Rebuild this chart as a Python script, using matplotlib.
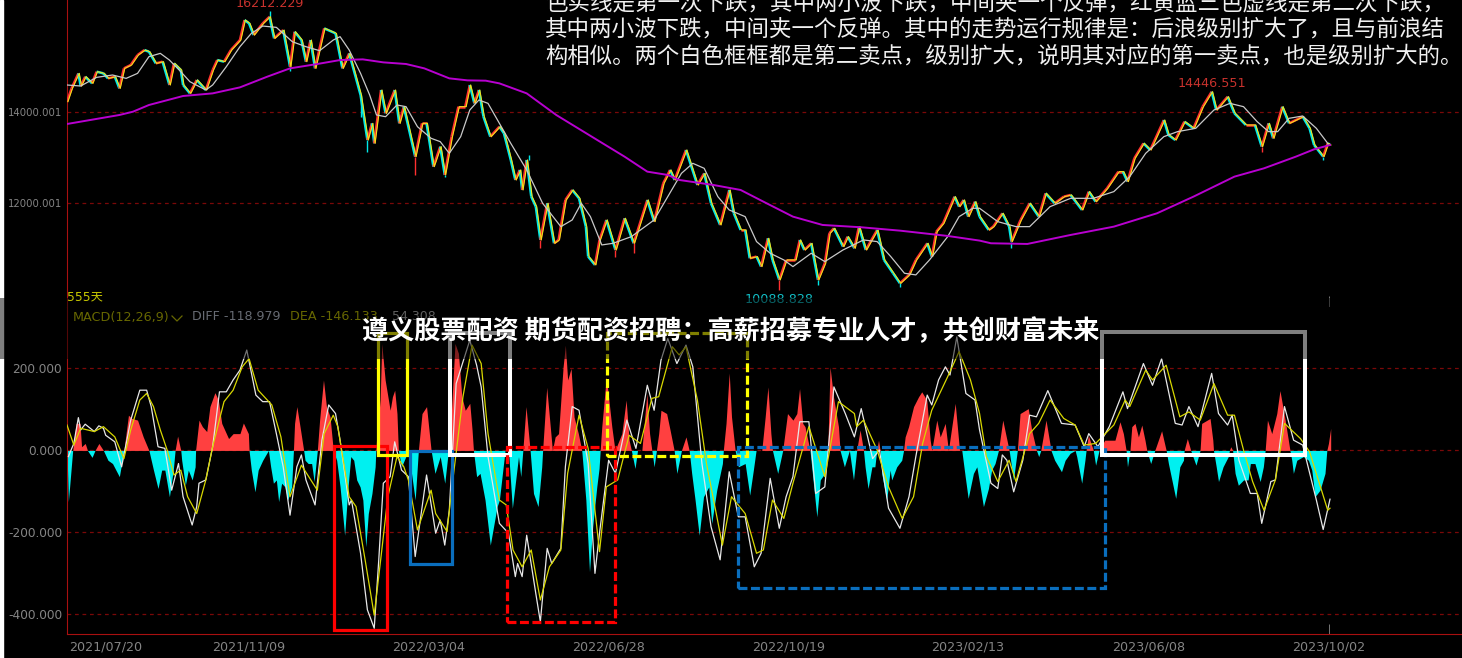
#!/usr/bin/env python3
import matplotlib
matplotlib.use("Agg")
import matplotlib.pyplot as plt
import numpy as np
from matplotlib.collections import LineCollection
from matplotlib.patches import Rectangle

plt.rcParams['font.family'] = ['DejaVu Sans', 'Noto Sans CJK SC']

#x axis is the trading day number, 555 days on the chart
close_bars = [0,2,5,6,8,11,13,16,18,21,23,25,28,31,34,36,39,42,45,47,50,51,54,57,61,64,66,69,72,76,78,80,82,86,89,91,95,98,100,103,105,107,109,113,118,121,124,129,132,134,135,138,140,144,146,148,153,156,158,161,164,166,169,172,175,177,179,181,183,186,
	190,192,195,197,199,200,202,204,206,208,211,214,216,219,222,225,228,229,232,234,237,241,245,249,255,258,262,265,267,272,277,280,283,287,291,293,296,298,300,303,305,308,310,313,316,320,322,324,327,330,333,335,337,341,343,346,348,351,356,359,363,366,370,373,378,380,382,385,390,392,394,396,399,
	401,405,407,411,414,415,419,423,427,430,434,438,441,446,449,452,457,462,464,466,469,473,476,482,484,487,491,495,499,503,505,510,513,518,522,525,528,530,534,537,543,546,548,552,554,555]
close = [14227,14520,14850,14570,14777,14630,14887,14850,14740,14777,14520,14960,15034,15253,15363,15327,15070,15107,14594,15070,14924,14594,14410,14704,14484,14924,15143,15107,15363,15583,16023,15950,15693,15950,16096,15620,15803,14997,15766,15583,15107,15583,14960,15840,15730,14960,15290,14374,13384,13751,13311,14484,13971,14484,13751,14117,13018,13751,13751,12798,13238,12615,13458,14117,14117,14594,14190,14484,13897,13458,
	13677,13531,12945,12505,12725,12285,12945,12138,11918,11185,11992,11112,11185,12065,12285,12101,11478,10819,10635,11185,11625,10965,11662,11112,12065,11588,12431,12725,12505,13164,12395,12651,11992,11515,12285,11772,11405,11405,10782,10819,10599,11222,10745,10306,10745,10745,11185,10965,11112,10306,10672,11332,11442,11038,11258,11002,11478,10965,11405,10745,10452,10232,10416,10745,11112,10819,11368,11552,12138,11918,12065,11698,12028,
	11698,11405,11478,11772,11478,11148,11625,11992,11698,12211,11992,12138,12175,11845,12248,12028,12321,12688,12688,12468,12981,13311,13164,13824,13494,13384,13787,13641,14117,14447,14044,14337,13971,13714,13714,13238,13751,13421,14117,13751,13897,13641,13274,13018,13311,13274]

#long wicks that stick out past the closes
wick_bars = [89,98,132,153,166,129,208,203,241,249,313,330,366,415,503,525,552]
wick_from = [16096,14997,13384,13018,12615,14374,11185,12945,10965,11112,10306,10306,10232,11148,14447,13238,13018]
wick_to = [16212,14900,13128,12615,12578,13900,11000,13050,10800,10900,10088,10200,10150,11002,14446,13130,12950]

ma_bars = [0,6,13,20,26,31,36,41,45,50,54,61,64,70,76,81,86,92,99,105,111,117,120,124,129,133,136,140,145,149,154,160,164,168,173,177,181,185,190,
	195,202,209,217,222,226,230,235,240,248,258,264,270,275,280,286,291,298,303,309,315,319,327,333,341,350,356,362,368,373,379,387,392,398,
	401,409,417,423,432,441,451,460,467,474,482,488,496,504,511,517,523,528,532,537,543,549,554]
ma = [14594,14572,14762,14814,14740,14850,15217,15290,15143,14887,14667,14484,14594,14997,15437,15730,15891,15862,15547,15437,15349,15583,15657,15363,14850,14374,13934,13897,14154,14117,13677,13421,13348,13091,13458,14044,14264,14190,13751,
	13311,12725,11992,11478,11625,11992,11698,11075,11112,11258,11625,12138,12651,12871,12761,12138,11845,11698,11149,10892,10745,10599,10892,10709,10965,11185,11149,10819,10452,10416,10745,11258,11698,11882,
	11882,11588,11478,11478,11918,12101,12101,12248,12578,13091,13458,13568,13641,14044,14190,14117,13787,13568,13568,13861,13912,13641,13311]

long_ma_bars = [0,23,29,36,51,64,76,88,98,110,120,130,139,149,157,168,176,184,190,202,215,233,245,255,264,269,284,296,306,319,332,349,366,387,401,406,422,441,460,479,495,513,526,540,548,555]
long_ma = [13736,13934,14007,14154,14352,14410,14542,14777,14960,15056,15143,15158,15092,15056,14960,14740,14696,14689,14630,14410,13934,13384,13018,12688,12615,12505,12395,12285,12028,11698,11515,11464,11390,11273,11171,11112,11097,11295,11478,11772,12138,12578,12761,13018,13179,13274]

dif_bars = [0.6,3,5,6,8,12,14,16,17,21,24,26,28,32,35,37,40,43,46,49,51,55,57,58,61,64,67,70,73,76,79,83,86,89,92,95,98,101,103,105,109,112,115,118,120,124,125,129,132,135,137,139,142,144,147,150,153,158,162,164,166,168,171,177,180,182,185,190,
	194,197,198,200,202,206,208,211,213,217,219,222,225,229,232,234,238,241,246,250,255,258,261,264,268,272,275,279,283,287,291,295,298,302,305,309,313,316,319,322,326,329,333,337,342,346,349,354,357,361,366,370,373,378,380,383,386,388,391,395,399,401,
	406,409,411,413,416,420,423,426,431,437,443,447,449,453,458,464,466,473,477,481,487,490,493,497,503,506,510,512,515,520,523,525,529,531,535,539,543,549,552,555]
dif = [-15,17,80,50,64,46,60,54,37,21,-40,17,74,147,147,107,9,5,-97,-32,-113,-182,-137,-80,-72,9,143,143,172,196,245,135,119,119,41,-40,-158,-40,-11,-72,-133,25,111,90,25,-133,-121,-251,-389,-434,-267,-80,-64,21,-48,-64,-259,-60,-202,-170,-231,-146,163,269,208,155,-15,-178,
	-202,-308,-276,-308,-207,-349,-418,-239,-276,-239,-40,107,98,-32,-300,-202,-24,-56,74,5,159,98,220,273,212,257,204,-32,-186,-267,-52,-162,-162,-284,-251,-68,-190,-113,-64,70,70,-105,-89,155,90,33,102,-20,1,-141,-190,-113,-15,135,111,172,204,184,277,139,123,50,
	-80,-93,-11,-24,-101,-24,86,82,146,66,62,9,41,9,58,143,102,212,159,224,66,62,107,58,188,90,62,86,-24,-105,-105,-178,-76,-72,107,25,13,-121,-193,-119]

dea_bars = [0,3,6,12,16,21,25,28,32,35,38,41,44,47,50,53,57,61,64,69,73,77,80,84,90,94,98,103,110,113,117,119,124,127,131,135,138,141,145,148,150,154,160,162,167,169,174,178,182,185,190,
	193,196,200,204,208,212,217,220,225,229,234,237,242,247,252,257,260,266,269,272,277,281,288,292,298,303,306,310,315,319,326,333,339,346,347,350,356,361,367,372,376,380,387,392,397,401,
	404,409,414,417,423,427,432,438,443,447,452,460,465,467,474,477,483,489,493,498,504,510,513,517,521,526,531,535,542,546,554,555]
dea = [62,13,54,46,58,33,-20,50,123,139,107,50,1,-60,-48,-113,-154,-72,9,119,147,204,224,147,111,33,-113,-36,-97,41,86,58,-113,-137,-267,-402,-259,-113,-15,-40,-72,-194,-97,-154,-198,-97,131,257,212,41,-121,
	-133,-243,-284,-243,-365,-284,-243,-56,86,5,-247,-89,-72,37,17,127,131,253,233,253,123,-32,-231,-113,-154,-251,-243,-121,-166,-80,58,-64,119,90,58,74,1,-89,-166,-113,17,98,180,241,172,90,
	-15,-76,-24,-76,41,66,123,78,62,13,17,62,123,107,196,172,208,82,94,74,163,86,86,1,-76,-146,-72,66,29,-3,-146,-141]

#macd histogram, (day, value), read lobe by lobe
hist_points = [
	(0,0),(0.6,-125),(2.5,0),(4,66),(5.7,66),(6.4,9),(8,17),(9,0),(11,-17),(12.3,0),(14,17),(16,0),(18,-24),(20,-32),(23,-64),(25,0),
	(27,86),(28.5,78),(31,74),(33.5,33),(36,0),(38,-48),(40,-93),(41.6,-48),(43,-48),(45,-113),(46.7,-48),(47.5,0),(48.6,35),(50,0),
	(50.4,-24),(52,-85),(53.3,-48),(55,-72),(56.3,-40),(56.5,0),(58,74),(59.5,58),(61.4,46),(62.8,107),(65,141),(66.5,123),(68,66),(71,29),(73,41),(76,41),(77.5,67),(79.7,41),(80,0),
	(81,-48),(82.6,-101),(84,-48),(86,-24),(88.5,0),(89.5,-40),(90.7,-80),(92,-72),(93,-125),(94.3,-80),(95.8,-89),(97,-121),(98.7,-89),(99.5,0),
	(100,66),(101,107),(102.4,58),(104,0),(104.6,-24),(106,-32),(107.5,-32),(108.6,-76),(110,0),(111,74),(112.7,172),(114,107),(115.6,82),(117,0),
	(118.5,-24),(120,-89),(122,-207),(123.5,-89),(124.7,-15),(126,-24),(127.3,-72),(128.8,-89),(130,-121),(131.3,-235),(132.4,-154),(134,-105),(135.4,-40),(135.7,0),
	(136,25),(137.6,123),(138.3,261),(139.8,172),(142,98),(143,131),(144,147),(145,90),(145.6,0),(147,-40),(150,0),(153,-121),(154.4,0),(156,90),(158,107),(160,0),
	(161.7,-56),(164,-15),(166,-80),(167.6,0),(168.4,41),(170.5,261),(172,237),(173.5,131),(175,98),(177,115),(178,50),(178.6,0),
	(180,-64),(181.5,-56),(183.7,-121),(186,-231),(189,-137),(190,-121),(192.5,0),(194,0),(195.7,-141),(198.4,-15),(199.4,-64),(200.3,0),(201.7,107),(203.5,0),
	(205,-105),(207,-137),(208.6,-40),(209,0),(210.8,154),(213.3,0),(214.5,33),(216,41),(218,204),(219,257),(220,172),(221.5,200),(222.8,82),(224.7,41),(226.2,0),
	(228,-121),(229.6,-296),(231,-186),(232.8,-89),(233.8,-44),(234.3,0),(235,58),(237,180),(239.4,58),(240.8,0),(243.8,41),(245.7,123),(247,25),(248,0),(249.6,-44),(250.7,0),
	(252.6,0),(254.8,139),(256,41),(257,0),(258,-40),(259,0),(260,41),(261,98),(263.5,90),(265,50),(266.8,0),(268,-56),(270,0),(272,33),(273.4,0),
	(274.5,-56),(276,-121),(277.8,-207),(279.7,-113),(282,-89),(283.3,-178),(285.5,-97),(288,-32),(288.4,0),(289.6,66),(291,189),(292,82),(293.6,0),
	(295,-40),(298,-32),(300,-109),(301.6,-48),(302.8,0),(305.3,0),(306.8,82),(308,155),(309.3,41),(310,0),(312.3,-56),(314.5,0),
	(316.6,90),(319,74),(320.7,90),(321.9,151),(323.3,66),(324.3,58),(326.5,0),(329.5,-162),(331,-72),(333,-56),(334.3,0),(335.3,204),(336.8,131),(339,58),(339.7,0),
	(341.6,-40),(343.8,0),(345.6,-72),(347,0),(348.5,50),(350,0),(350.7,-40),(352,-93),(353.7,-40),(355,-40),(355.8,0),(356.6,25),(357.3,0),
	(358,-56),(360.2,-121),(361.7,-48),(362.4,-72),(364.6,-40),(366.8,-24),(367.6,0),(368.3,33),(369.8,58),(372,107),(374.2,131),(375.6,143),(377.8,123),(379.3,25),(380,0),
	(382.2,74),(383.7,33),(385.9,66),(387.3,0),(390.3,115),(392.2,0),(393.2,0),(394.7,-64),(396,-117),(398.3,-56),(399.8,-40),(401.3,-89),
	(402.7,-137),(404.9,-93),(406.3,-48),(407.8,-32),(409.3,0),(411.2,74),(414,0),(415.9,-72),(417.6,0),(418.8,90),(422.4,102),(423.9,50),(426,0),(427,-15),(427.9,0),(430.2,74),(432.4,0),
	(434,-24),(437,-52),(438.6,-24),(440.8,-7),(443,0),(443.7,-15),(445.9,-80),(447.3,-24),(447.8,0),(448.8,37),(451,0),(452,-36),(453.5,0),
	(456,25),(460.5,25),(462.7,70),(464.2,41),(465.4,0),(466,-40),(467.1,0),(467.9,58),(469.3,66),(470.8,33),(472.3,62),(473.7,25),(474.5,0),(476.2,-32),(478,0),(481,48),(483,0),
	(484,-32),(487.2,-117),(489,-40),(490.6,-24),(490.9,0),(492.3,29),(493.8,0),(496.1,-36),(497.9,0),(498.6,66),(502.3,78),(503.5,25),(503.8,0),
	(505,-40),(506,-76),(508,-40),(510.3,-15),(510.8,0),(511.4,9),(512.2,0),(513.3,-56),(514.7,-85),(517,-72),(519,-72),(520,-32),(522,-32),(524.3,-76),(525.7,-40),(526.5,0),
	(527.5,74),(529.4,41),(531.6,90),(533,146),(535.3,74),(537.4,0),(538.2,-24),(538.9,-56),(540.4,-24),(543.3,-15),(545.5,-24),(547,-48),(548.4,-113),(550.6,-97),(552.8,-56),(553.6,0),(554.3,17),(555.3,54),
]

date_ticks = [0.8,80,159,238,317,396,475.4,554.5]
date_labels = ["2021/07/20","2021/11/09","2022/03/04","2022/06/28","2022/10/19","2023/02/13","2023/06/08","2023/10/02"]
price_ticks = [14000.001,12000.001]
macd_ticks = [200,0,-200,-400]

#drawn boxes on the macd panel: left, right, top, bottom, colour, dashed
boxes = [
	(117.5,140.8,11,-439,"#ff0000",False),
	(136.7,149.4,287,-11,"#ffff00",False),
	(150.7,169.2,-1,-277,"#0a6ebd",False),
	(168.3,194.6,287,-11,"#ffffff",False),
	(193.4,240.8,9,-418,"#ff0000",True),
	(237.3,298.8,287,-13,"#ffff00",True),
	(294.8,456,9,-336,"#0a6ebd",True),
	(454.8,544,289,-11,"#ffffff",False),
]

note_lines = [
	"色实线是第一次下跌，其中两小波下跌，中间夹一个反弹，红黄蓝三色虚线是第二次下跌，",
	"其中两小波下跌，中间夹一个反弹。其中的走势运行规律是：后浪级别扩大了，且与前浪结",
	"构相似。两个白色框框都是第二卖点，级别扩大，说明其对应的第一卖点，也是级别扩大的。",
]
banner = "遵义股票配资 期货配资招聘：高薪招募专业人才，共创财富未来"

W, H = 1462, 658
RED_LINE = "#a81010"
GRID = "#7a0808"
GREY = "#858585"


def panel(fig, top, bottom):
	ax = fig.add_axes([67 / W, 1 - bottom / H, (W - 67) / W, (bottom - top) / H])
	ax.set_facecolor("black")
	ax.set_xlim(0, 613)
	for side in ("top", "right"):
		ax.spines[side].set_visible(False)
	ax.spines["left"].set_color(RED_LINE)
	ax.spines["bottom"].set_color(RED_LINE)
	ax.tick_params(length=0, colors=GREY)
	return ax


fig = plt.figure(figsize=(W / 100, H / 100), dpi=100, facecolor="black")

#price panel
ax1 = panel(fig, 0, 307)
ax1.set_ylim(9710, 16464)
ax1.spines["bottom"].set_color("#5a0606")
ax1.set_xticks([])
ax1.set_yticks(price_ticks, [f"{v:.3f}" for v in price_ticks], fontsize=7.3)
ax1.grid(axis="y", color=GRID, linestyle=(0, (3, 3)), linewidth=0.9)
ax1.set_axisbelow(True)

#up moves red, down moves cyan, close line in yellow over them
xs = np.array(close_bars, dtype=float)
ys = np.array(close, dtype=float)
segs = [[(xs[i], ys[i]), (xs[i + 1], ys[i + 1])] for i in range(len(xs) - 1)]
cols = ["#ff3030" if ys[i + 1] >= ys[i] else "#00e8e8" for i in range(len(xs) - 1)]
ax1.add_collection(LineCollection(segs, colors=cols, linewidths=1.8, zorder=3))
ax1.vlines(wick_bars, wick_from, wick_to, colors=["#ff3030" if b in (153, 208, 241, 249, 313, 525) else "#00e8e8" for b in wick_bars], linewidth=1, zorder=3)
ax1.plot(xs + 0.4, ys, color="#f2e21a", linewidth=0.8, zorder=4)
ax1.plot(ma_bars, ma, color="#c9c9c9", linewidth=0.9, zorder=5)
ax1.plot(long_ma_bars, long_ma, color="#b800d0", linewidth=1.4, zorder=5)
ax1.vlines(554.5, 0, 0.035, transform=ax1.get_xaxis_transform(), color="#777777", linewidth=0.7)

ax1.annotate("16212.229", (89, 16212.229), xytext=(0, 6), textcoords="offset points", color="#c8322d", fontsize=9.2, ha="center", va="center")
ax1.annotate("14446.551", (503, 14446.551), xytext=(0, 6), textcoords="offset points", color="#c8322d", fontsize=9.2, ha="center", va="center")
ax1.annotate("10088.828", (313, 10088.828), xytext=(0, -7), textcoords="offset points", color="#12c0c8", fontsize=9.2, ha="center", va="center")

#macd panel
ax2 = panel(fig, 307, 634)
ax2.set_ylim(-448, 350)
ax2.set_yticks(macd_ticks, [f"{v:.3f}" for v in macd_ticks], fontsize=8.7)
ax2.set_xticks(date_ticks, date_labels, fontsize=9.2)
ax2.get_xticklabels()[0].set_ha("left")
ax2.tick_params(axis="x", pad=5)
ax2.grid(axis="y", color=GRID, linestyle=(0, (3, 3)), linewidth=0.9)
ax2.set_axisbelow(True)

hb = np.array([p[0] for p in hist_points], dtype=float)
hv = np.array([p[1] for p in hist_points], dtype=float)
ax2.fill_between(hb, 0, np.maximum(hv, 0), color="#ff4040", linewidth=0, zorder=2)
ax2.fill_between(hb, 0, np.minimum(hv, 0), color="#00f0f0", linewidth=0, zorder=2)
ax2.plot(dif_bars, dif, color="#e8e8e8", linewidth=0.9, zorder=3)
ax2.plot(dea_bars, dea, color="#d8d800", linewidth=0.9, zorder=4)
ax2.vlines(554.5, 0, 0.03, transform=ax2.get_xaxis_transform(), color="#777777", linewidth=0.7)

for left, right, top, bottom, colour, dashed in boxes:
	ax2.add_patch(Rectangle((left, bottom), right - left, top - bottom, fill=False, edgecolor=colour,
		linewidth=2.9 if colour == "#ffffff" else 2.3, linestyle=(0, (2.8, 1.1)) if dashed else "-",
		joinstyle="miter", zorder=6))

#things placed in picture pixels: labels, notes, the dim banner strip
ov = fig.add_axes([0, 0, 1, 1])
ov.set_xlim(0, W)
ov.set_ylim(H, 0)
ov.axis("off")
ov.patch.set_alpha(0)

ov.text(67, 297, "555天", color="#c8c800", fontsize=8.8, va="center", zorder=3)
ov.text(73, 317, "MACD(12,26,9)", color="#d0d000", fontsize=9.2, va="center", zorder=1)
ov.plot([172, 177, 182], [316, 321, 316], color="#d0d000", linewidth=0.9, zorder=1)
ov.text(192, 317, "DIFF -118.979", color="#d0d8e8", fontsize=9.1, va="center", zorder=1)
ov.text(290, 317, "DEA -146.133", color="#d0d000", fontsize=9.2, va="center", zorder=1)
ov.text(392, 317, "54.308", color="#c0c0c0", fontsize=9, va="center", zorder=1)

ov.add_patch(Rectangle((0, 0), 3, H, color="white", zorder=1))
ov.add_patch(Rectangle((0, 298), W, 61, facecolor="black", alpha=0.5, linewidth=0, zorder=2))

for line, y, size in zip(note_lines, (3, 29, 56), (16.2, 16.2, 16.1)):
	ov.text(545, y, line, color="#f0f0f0", fontsize=size, va="center", family="Noto Sans CJK SC", zorder=3)
ov.text(731, 332, banner, color="white", fontsize=18.8, fontweight="bold", ha="center", va="center",
	family="Noto Sans CJK SC", zorder=4)

fig.savefig("out.png", dpi=100, facecolor="black")
plt.close(fig)
